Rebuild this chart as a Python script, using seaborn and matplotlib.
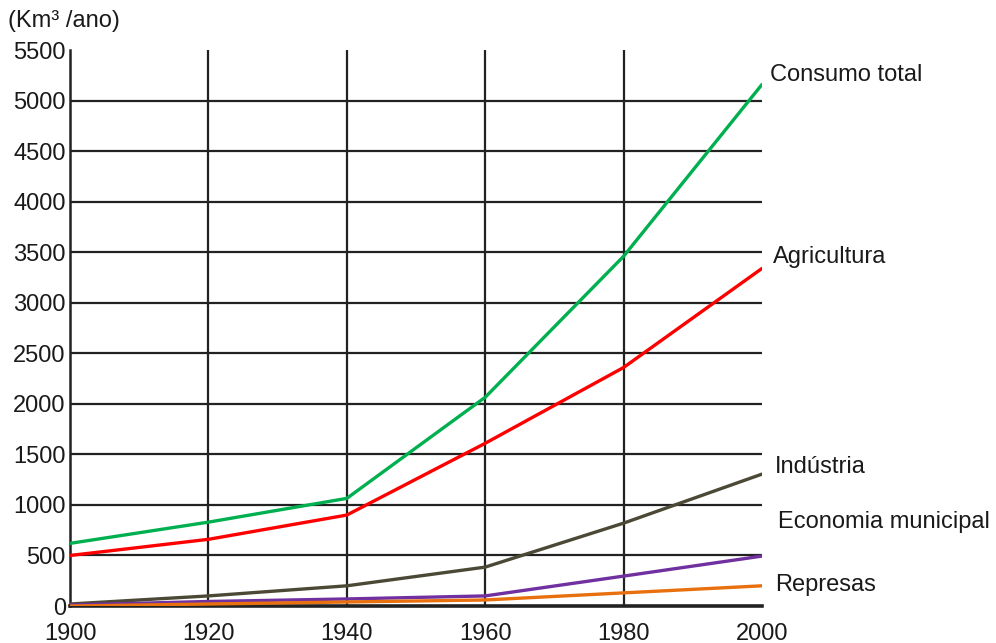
import seaborn as sns
import pandas as pd
import matplotlib.pyplot as plt

anos = [1900, 1920, 1940, 1960, 1980, 2000]
consumo_total = [620, 830, 1065, 2065, 3460, 5160]
agricultura = [500, 660, 900, 1610, 2360, 3340]
industria = [20, 100, 200, 385, 820, 1305]
economia_municipal = [10, 45, 70, 100, 296, 494]
represas = [0, 20, 40, 60, 130, 200]

series = {
    "Consumo total": consumo_total,
    "Agricultura": agricultura,
    "Indústria": industria,
    "Economia municipal": economia_municipal,
    "Represas": represas,
}
cores = ["#00b050", "#ff0000", "#4b4936", "#7030a0", "#e8700e"]

df = pd.DataFrame([
    {"ano": a, "valor": v, "serie": nome}
    for nome, vals in series.items() for a, v in zip(anos, vals)
])

sns.set_style("white")
plt.rcParams['font.family'] = ['Liberation Sans', 'DejaVu Sans']

fig = plt.figure(figsize=(9.96, 6.43), dpi=100)
ax = fig.add_axes([0.0703, 0.0575, 0.6947, 0.8645])

# grid first so lines sit on top
for x in anos[1:-1]:
    ax.axvline(x, color="#222222", lw=1.6, zorder=1)
for y in range(500, 5001, 500):
    ax.axhline(y, color="#222222", lw=1.6, zorder=1)

sns.lineplot(data=df, x="ano", y="valor", hue="serie", palette=cores,
             linewidth=2.4, legend=False, ax=ax, zorder=3)

ax.set_xlim(1900, 2000)
ax.set_ylim(0, 5500)
ax.set_xticks(anos)
ax.set_yticks(range(0, 5501, 500))
ax.tick_params(axis="both", length=0, labelsize=17, pad=3, labelcolor="#1a1a1a")
ax.tick_params(axis="x", pad=12)
ax.set_xlabel("")
ax.set_ylabel("")
for s in ["top", "right"]:
    ax.spines[s].set_visible(False)
for s in ["left", "bottom"]:
    ax.spines[s].set_color("#222222")
    ax.spines[s].set_linewidth(1.8)
ax.spines["bottom"].set_linewidth(2.6)

# rotulos das series a direita
rotulos_y = [5250, 3450, 1380, 830, 210]
rotulos_dx = [6, 8, 9.5, 11.5, 9.5]
for (nome, y), dx in zip(zip(series.keys(), rotulos_y), rotulos_dx):
    ax.annotate(nome, xy=(2000, y), xytext=(dx, 0), textcoords="offset points",
                ha="left", va="center", fontsize=17, color="#1a1a1a",
                annotation_clip=False)

fig.text(0.008, 0.968, "(Km³ /ano)", fontsize=17, ha="left", va="center",
         color="#1a1a1a")

fig.savefig("out.png", dpi=100)
